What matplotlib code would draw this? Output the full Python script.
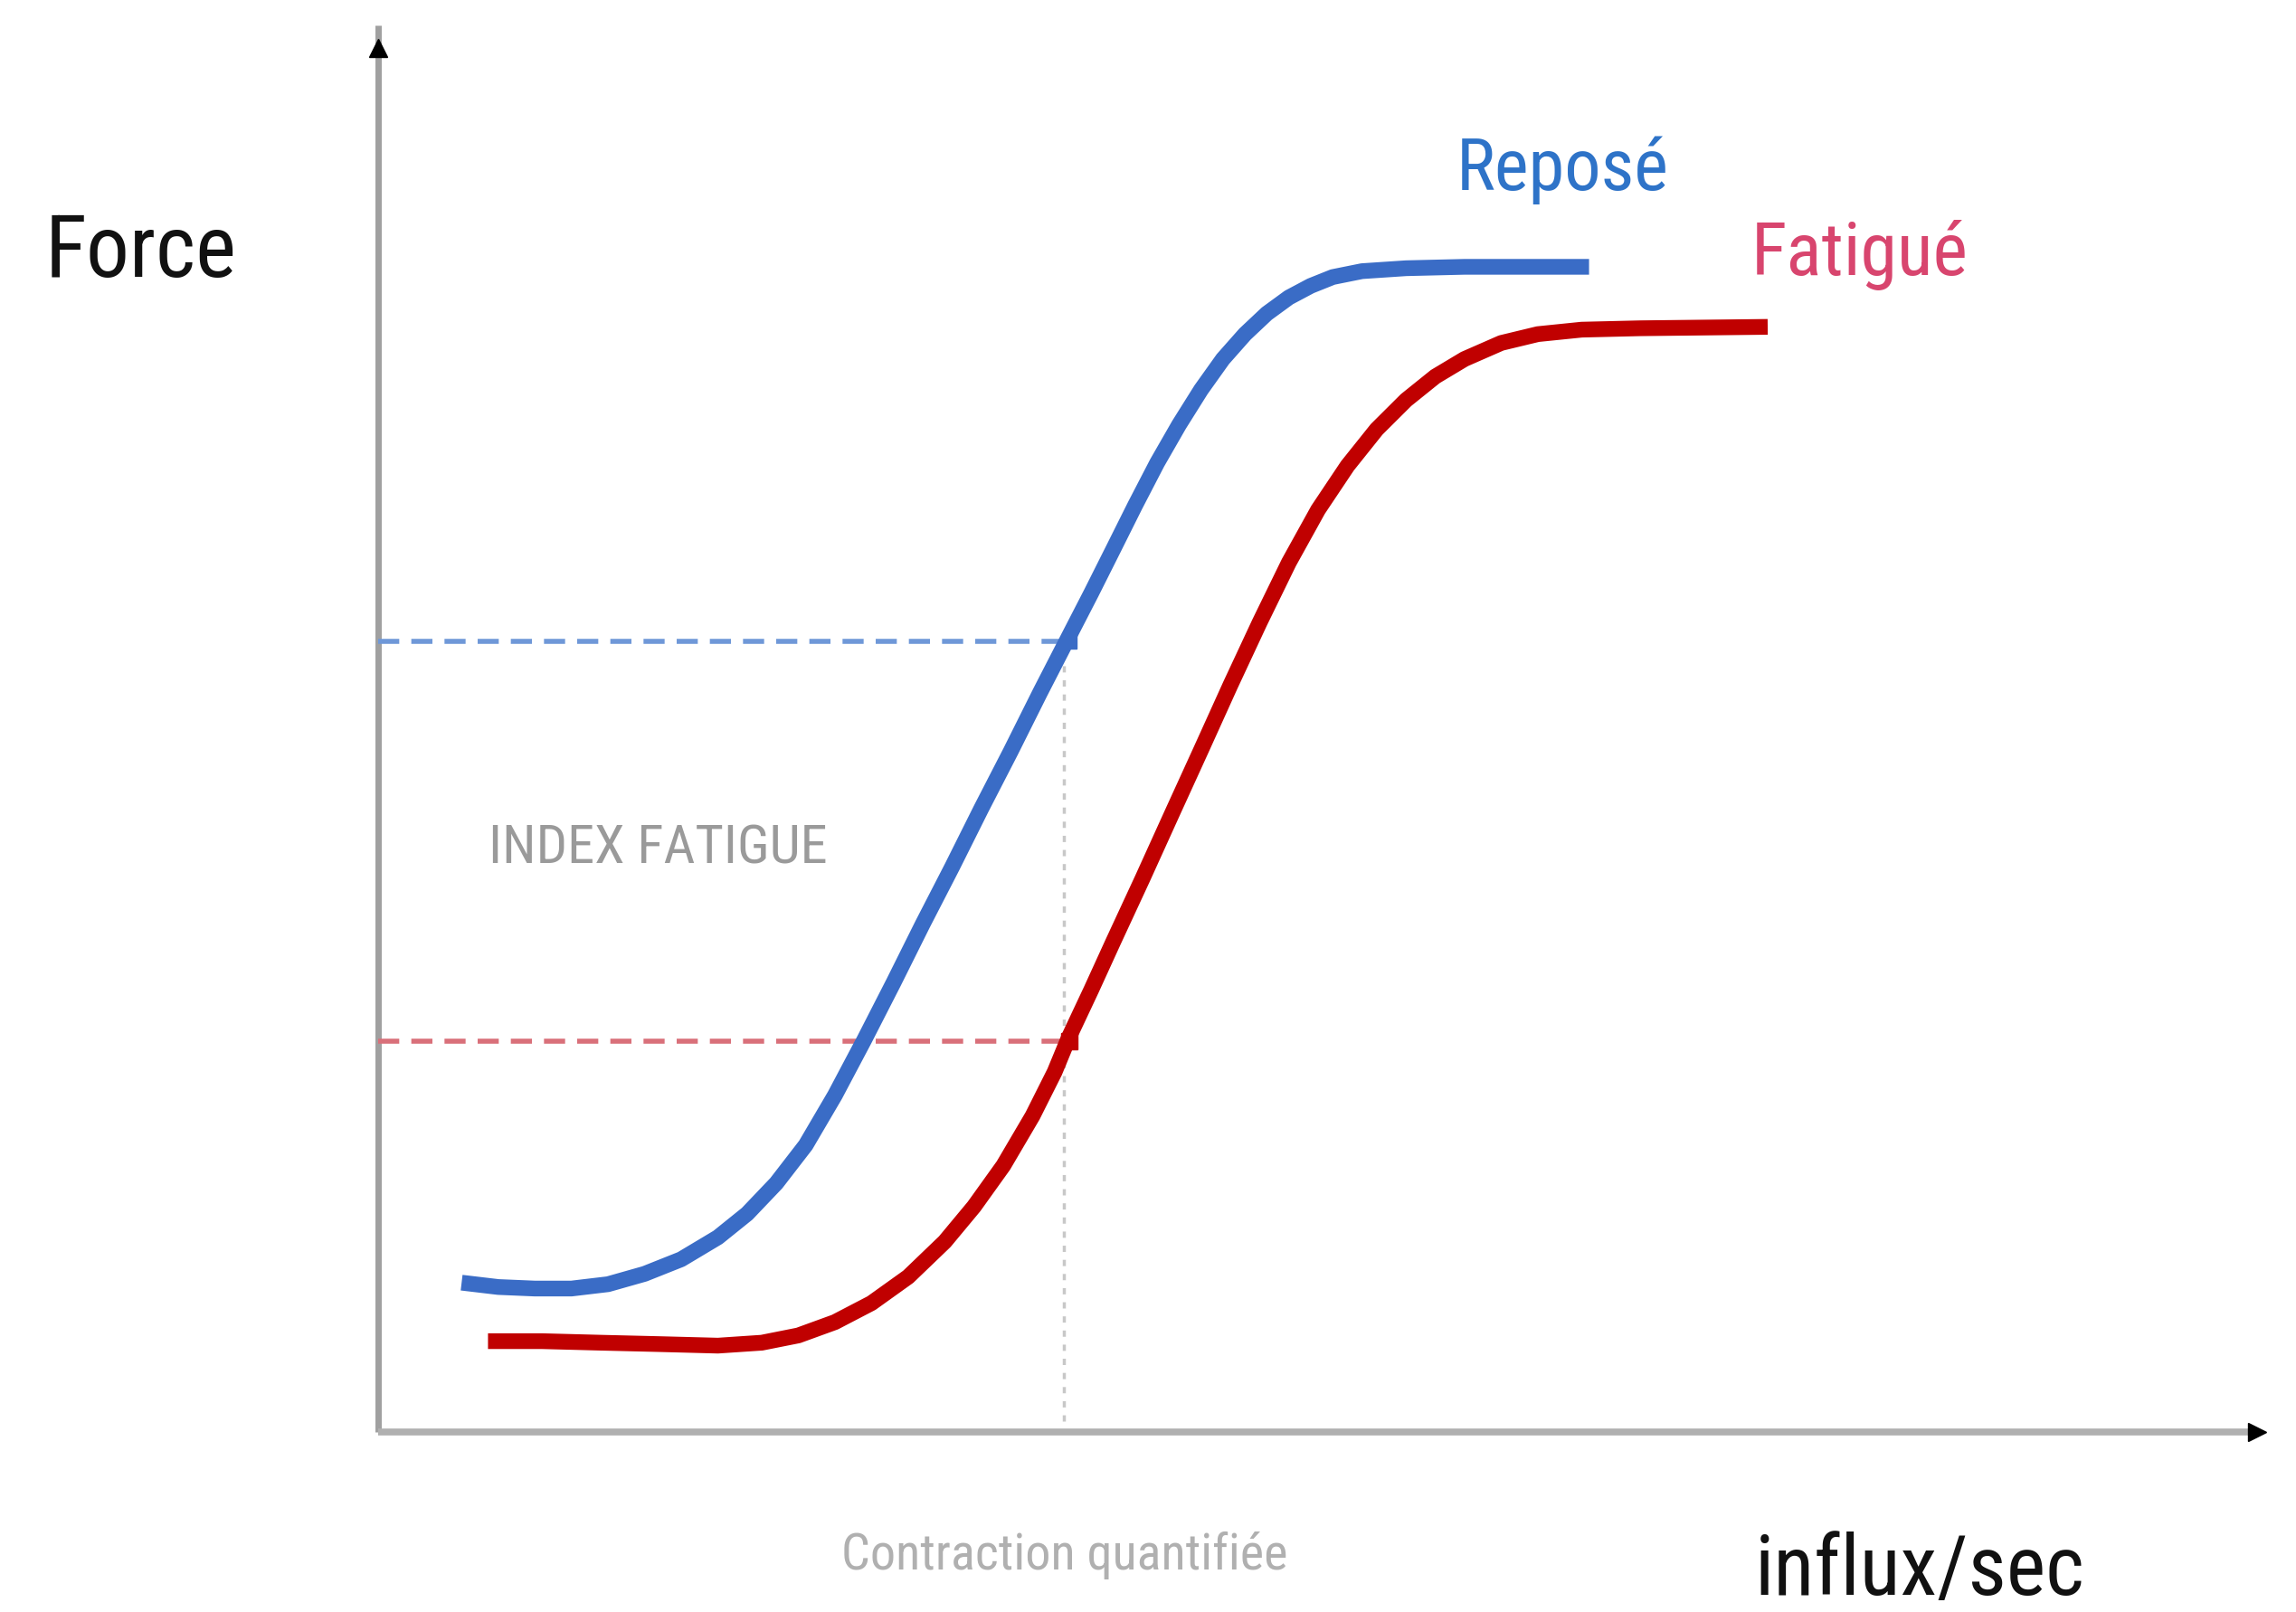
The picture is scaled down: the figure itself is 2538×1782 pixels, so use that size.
import matplotlib
matplotlib.use("Agg")
import matplotlib.pyplot as plt
from matplotlib import font_manager
from matplotlib.font_manager import FontProperties

# ---------------- data (arbitrary units: x = influx/sec, y = force) ----------------
rested_x = [4.43, 6.37, 8.31, 10.26, 12.20, 14.14, 16.08, 18.03, 19.58, 21.13, 22.69, 24.24,
            25.80, 27.35, 28.90, 30.46, 32.01, 33.57, 35.12, 36.52, 37.84, 39.01, 40.17,
            41.34, 42.50, 43.67, 44.83, 46.00, 47.16, 48.33, 49.49, 50.66, 52.21, 54.55,
            57.65, 64.26]
rested_y = [10.67, 10.36, 10.25, 10.25, 10.56, 11.30, 12.34, 13.91, 15.59, 17.78, 20.50, 24.06,
            28.03, 32.11, 36.30, 40.38, 44.56, 48.64, 52.82, 56.49, 59.94, 63.08, 66.21,
            69.25, 71.97, 74.48, 76.67, 78.45, 79.92, 81.07, 81.90, 82.53, 82.95, 83.16,
            83.26, 83.26]

tired_x = [5.83, 8.70, 11.81, 14.92, 18.03, 20.36, 22.30, 24.24, 26.18, 28.13, 30.07, 31.62,
           33.18, 34.73, 35.90, 36.67, 37.84, 39.01, 40.56, 42.11, 43.67, 45.22, 46.78,
           48.33, 49.88, 51.44, 52.99, 54.55, 56.10, 57.65, 59.60, 61.54, 63.87, 66.98, 73.74]
tired_y = [6.49, 6.49, 6.38, 6.28, 6.17, 6.38, 6.90, 7.85, 9.21, 11.09, 13.60, 16.11,
           19.04, 22.59, 25.73, 28.24, 31.59, 35.04, 39.54, 44.14, 48.74, 53.35, 57.85,
           62.13, 65.90, 69.04, 71.65, 73.74, 75.42, 76.67, 77.82, 78.45, 78.77, 78.87, 78.97]

quantified_x = 36.4          # contraction quantifiée
rested_level = 56.5          # force at that contraction, rested
tired_level = 27.9           # force at that contraction, tired

labels = {"y": "Force", "x": "influx/sec", "rested": "Reposé", "tired": "Fatigué",
          "index": "INDEX FATIGUE", "contraction": "Contraction quantifiée"}

# ---------------- font: prefer a condensed face ----------------
def pick_font():
    prefs = ["Roboto Condensed", "Liberation Sans Narrow", "DejaVu Sans Condensed",
             "Open Sans Condensed", "Noto Sans Condensed"]
    cond = []
    for f in font_manager.fontManager.ttflist:
        st = f.stretch
        is_cond = (isinstance(st, str) and "condensed" in st) or \
                  (isinstance(st, (int, float)) and st < 500) or \
                  "Condensed" in f.name or "Narrow" in f.name or \
                  "Condensed" in f.fname or "Narrow" in f.fname
        if is_cond and f.style == "normal" and f.weight in (400, "normal", "regular", 500, "medium"):
            cond.append(f)
    for p in prefs:
        for f in cond:
            if p.replace(" ", "").lower() in (f.name + f.fname).replace(" ", "").lower():
                return FontProperties(fname=f.fname)
    if cond:
        return FontProperties(fname=cond[0].fname)
    return FontProperties(family="Liberation Sans")

fp = pick_font()
plt.rcParams["font.family"] = ["Liberation Sans", "DejaVu Sans"]

W, H = 2538, 1782
fig = plt.figure(figsize=(W / 100, H / 100), dpi=100)
ax = fig.add_axes([0, 0, 1, 1])
ax.set_axis_off()

# pixel layout: origin at (418,1583) px, 100 units x = 2083 px, 100 units y = 1547 px
sx = (2501 - 418) / 100.0
sy = (1583 - 36) / 100.0
ax.set_xlim(-418 / sx, (W - 418) / sx)
ax.set_ylim(-(H - 1583) / sy, 1583 / sy)

def px(xp, yp):
    return (xp - 418) / sx, (1583 - yp) / sy

# axes
ax.plot([0, 0], [0, 100.5], color="#a0a0a0", lw=5, solid_capstyle="butt", zorder=2)
ax.plot([0, 99.8], [0, 0], color="#b0b0b0", lw=5.5, solid_capstyle="butt", zorder=2)
ax.plot([0], [98.9], marker="^", ms=15, color="black", zorder=3)
ax.plot([99.7], [0], marker=">", ms=15, color="black", zorder=3)

# guides
ax.plot([0, quantified_x], [rested_level, rested_level], color="#6f98d8", lw=4,
        dashes=(4.2, 2.4), zorder=2)
ax.plot([0, quantified_x], [tired_level, tired_level], color="#d9707a", lw=4,
        dashes=(4.2, 2.4), zorder=2)
ax.plot([quantified_x, quantified_x], [0.8, rested_level], color="#c8c8c8", lw=2.5,
        dashes=(2, 2.5), zorder=1)

# curves
ax.plot(rested_x, rested_y, color="#3a6cc6", lw=12.5, solid_capstyle="butt",
        solid_joinstyle="round", zorder=4)
ax.plot(tired_x, tired_y, color="#c00000", lw=12.5, solid_capstyle="butt",
        solid_joinstyle="round", zorder=4)

# markers at guide ends
ax.plot([quantified_x + 0.3], [rested_level], marker="s", ms=12, color="#3a6cc6", zorder=5)
ax.plot([quantified_x + 0.3], [tired_level], marker="s", ms=13, color="#c00000", zorder=5)

# texts (fitted to the reference widths)
fig.canvas.draw()
renderer = fig.canvas.get_renderer()

def fitted(xp, yp, s, width_px, color):
    t = ax.text(*px(xp, yp), s, fontproperties=fp.copy(), fontsize=50, color=color,
                ha="center", va="baseline")
    w = t.get_window_extent(renderer).width
    t.set_fontsize(50 * width_px / w)
    return t

fitted(156, 306, labels["y"], 212, "#111111")
fitted(1727, 210, labels["rested"], 235, "#2e73c8")
fitted(2056, 304, labels["tired"], 240, "#d8456e")
fitted(727, 955, labels["index"], 375, "#9a9a9a")
fitted(1177, 1735, labels["contraction"], 494, "#b0b0b0")
fitted(2122, 1763, labels["x"], 365, "#111111")

fig.savefig("out.png", dpi=100, facecolor="white")
